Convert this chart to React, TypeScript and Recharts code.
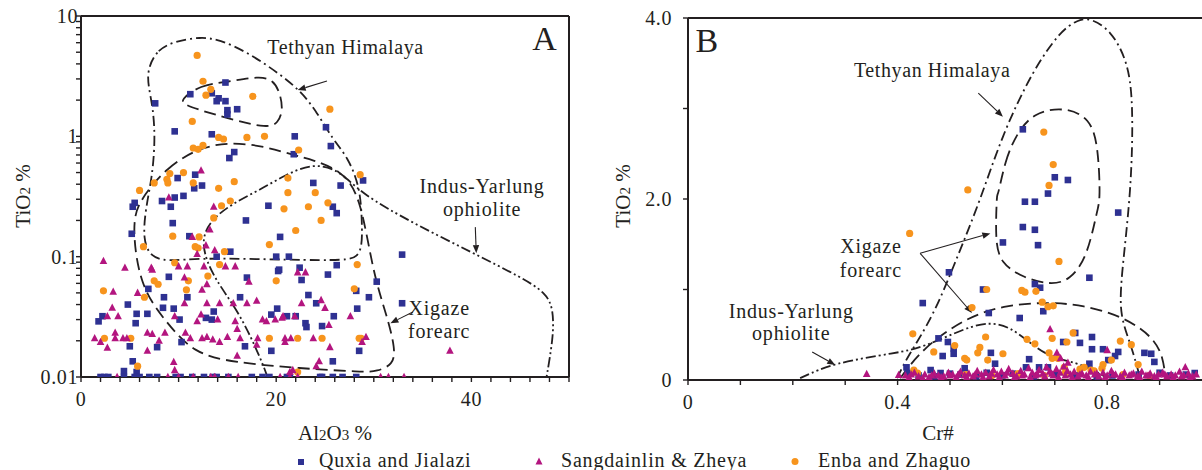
import React from 'react';
import { ScatterChart, Scatter, XAxis, YAxis, ReferenceLine, ReferenceDot } from 'recharts';

const FONT = '"Liberation Serif", "Times New Roman", serif';
const INK = '#231f20';
const BLUE = '#2e3192';
const MAGENTA = '#b3157f';
const ORANGE = '#f7941d';

type Pt = [number, number];

// ---------- Panel A : Al2O3 % vs TiO2 % (log) ----------
const aQuxia: Pt[] = [
  [14.8, 2.8], [11.2, 2.24], [13.4, 2.28], [14.1, 2.07], [14.8, 1.96], [13.9, 1.96], [15.0, 1.65], [16.0, 1.68],
  [15.0, 1.52], [7.6, 1.88], [9.6, 1.1], [13.4, 1.04], [21.9, 1.0], [21.8, 0.71], [15.7, 0.74], [15.2, 0.66],
  [11.7, 0.48], [12.4, 0.39], [11.6, 0.37], [9.9, 0.45], [25.1, 1.19], [25.6, 0.83], [28.9, 0.43], [23.8, 0.41],
  [26.6, 0.39], [8.3, 0.29], [9.6, 0.31], [10.5, 0.32], [9.2, 0.26], [5.3, 0.26], [5.5, 0.28], [19.2, 0.265],
  [25.8, 0.26], [26.2, 0.23], [9.4, 0.19], [16.9, 0.2], [5.2, 0.155], [20.4, 0.146], [11.1, 0.148], [15.3, 0.11],
  [13.9, 0.1], [20.0, 0.1], [21.3, 0.1], [26.2, 0.085], [22.4, 0.081], [20.3, 0.078], [20.2, 0.076], [9.0, 0.068],
  [6.9, 0.054], [4.8, 0.04], [8.5, 0.046], [10.9, 0.046], [16.3, 0.046], [17.0, 0.067], [5.7, 0.0335], [6.8, 0.0335],
  [8.4, 0.0376], [9.5, 0.037], [13.6, 0.035], [12.8, 0.031], [13.4, 0.03], [10.1, 0.03], [20.1, 0.037], [19.5, 0.033],
  [21.1, 0.032], [22.0, 0.032], [1.8, 0.029], [2.2, 0.032], [5.6, 0.028], [10.3, 0.0195], [16.8, 0.018], [5.0, 0.018],
  [7.8, 0.0177], [19.5, 0.0165], [5.3, 0.0135], [4.4, 0.0112], [5.7, 0.011], [32.9, 0.104], [22.6, 0.064], [25.3, 0.071],
  [30.3, 0.062], [28.2, 0.052], [29.5, 0.046], [23.3, 0.048], [24.1, 0.041], [32.9, 0.041], [28.3, 0.037], [25.9, 0.032],
  [23.0, 0.028], [23.1, 0.026], [24.7, 0.0265], [28.5, 0.0165], [25.8, 0.0135],
];
// samples sitting on the 0.01 detection limit
const aQuxiaFloor = [2.0, 2.4, 2.8, 4.4, 5.5, 6.0, 7.0, 7.8, 9.7, 10.2, 11.4, 12.6, 13.5, 13.9, 15.1, 17.5, 18.6, 19.3, 21.1, 21.4, 24.5, 24.7, 25.8, 26.8, 28.2];

const aSang: Pt[] = [
  [12.3, 0.52], [9.0, 0.31], [13.6, 0.26], [13.2, 0.168], [11.4, 0.146], [12.8, 0.124], [13.7, 0.113], [11.9, 0.105],
  [10.9, 0.083], [12.6, 0.083], [14.8, 0.083], [15.8, 0.083], [7.2, 0.081], [2.3, 0.092], [4.5, 0.081], [7.3, 0.078],
  [10.0, 0.083], [17.2, 0.062], [3.3, 0.051], [5.8, 0.05], [10.6, 0.067], [12.4, 0.053], [12.9, 0.059], [3.2, 0.0376],
  [2.7, 0.032], [3.8, 0.032], [10.6, 0.041], [12.9, 0.041], [14.2, 0.041], [15.6, 0.041], [17.0, 0.041], [18.0, 0.043],
  [9.6, 0.032], [11.9, 0.029], [12.3, 0.033], [14.0, 0.03], [15.8, 0.029], [18.6, 0.03], [19.0, 0.029], [19.9, 0.03],
  [20.6, 0.031], [3.5, 0.0233], [1.4, 0.021], [2.0, 0.0195], [3.5, 0.021], [4.3, 0.021], [4.7, 0.021], [6.8, 0.0233],
  [7.3, 0.0228], [8.0, 0.02], [8.6, 0.0233], [10.7, 0.0233], [11.2, 0.021], [12.4, 0.021], [12.9, 0.0215], [13.5, 0.0205],
  [14.2, 0.0195], [15.0, 0.0215], [16.0, 0.025], [16.3, 0.021], [18.1, 0.021], [18.0, 0.0185], [16.0, 0.015], [6.8, 0.0165],
  [2.7, 0.0175], [9.5, 0.0133], [9.6, 0.0114], [20.9, 0.0195], [21.4, 0.011], [22.2, 0.074], [23.0, 0.074], [22.6, 0.041],
  [24.6, 0.0435], [25.0, 0.0375], [20.7, 0.032], [21.9, 0.032], [27.6, 0.032], [25.4, 0.027], [20.9, 0.021], [21.5, 0.021],
  [23.8, 0.021], [29.2, 0.0215], [28.8, 0.0195], [25.5, 0.0177], [24.4, 0.0135], [24.1, 0.0123], [21.7, 0.0114], [37.8, 0.0165],
];
const aSangFloor = [3.7, 8.9, 10.0, 11.5, 13.3, 13.7, 15.1, 16.1, 20.4, 21.4, 22.2, 30.7, 31.5, 33.1];

const aEnba: Pt[] = [
  [11.9, 4.7], [12.5, 2.87], [13.3, 2.46], [12.8, 2.2], [17.6, 2.15], [11.4, 1.33], [14.1, 0.98], [14.6, 0.95],
  [17.0, 0.98], [18.8, 1.0], [11.5, 0.8], [12.0, 0.78], [12.5, 0.84], [22.3, 0.77], [9.1, 0.49], [10.5, 0.5],
  [8.8, 0.44], [8.9, 0.41], [7.5, 0.41], [11.5, 0.41], [15.7, 0.42], [14.1, 0.37], [6.0, 0.355], [21.2, 0.45],
  [21.2, 0.34], [25.5, 1.68], [28.6, 0.48], [24.0, 0.34], [15.3, 0.29], [14.4, 0.265], [20.8, 0.25], [23.3, 0.26],
  [25.3, 0.28], [13.6, 0.21], [24.6, 0.2], [22.0, 0.165], [9.4, 0.148], [12.1, 0.146], [19.3, 0.126], [6.4, 0.121],
  [11.7, 0.121], [12.0, 0.118], [14.7, 0.11], [9.6, 0.089], [14.2, 0.086], [28.3, 0.086], [2.3, 0.052], [7.5, 0.063],
  [7.9, 0.059], [6.5, 0.046], [11.0, 0.063], [10.8, 0.053], [13.0, 0.069], [20.0, 0.063], [2.4, 0.021], [5.1, 0.021],
  [19.3, 0.021], [22.2, 0.021], [5.8, 0.0123], [22.2, 0.011], [28.0, 0.054], [24.7, 0.021], [28.5, 0.021], [28.7, 0.021],
];

// field outlines, panel A
const aTethyan: Pt[] = [
  [6.8, 3.6], [7.8, 5.3], [9.8, 6.2], [12.2, 6.7], [14.2, 6.4], [17.0, 5.0], [19.7, 3.6], [22.4, 2.45], [24.2, 1.58],
  [25.8, 0.94], [27.3, 0.68], [28.6, 0.38], [28.8, 0.19], [28.8, 0.121], [28.3, 0.1], [27.3, 0.093], [21.7, 0.094],
  [12.2, 0.098], [8.8, 0.091], [7.1, 0.1], [6.35, 0.139], [6.6, 0.247], [7.3, 0.46], [7.6, 0.94], [7.4, 1.68], [6.9, 2.6],
];
const aXigaze: Pt[] = [
  [6.0, 0.295], [8.8, 0.556], [12.2, 0.815], [15.6, 0.897], [19.1, 0.815], [21.7, 0.7], [23.8, 0.636], [26.5, 0.525],
  [28.6, 0.338], [29.9, 0.073], [31.4, 0.0313], [32.2, 0.017], [32.0, 0.0127], [30.3, 0.0111], [28.9, 0.011],
  [22.4, 0.0118], [15.6, 0.0132], [11.5, 0.0158], [8.8, 0.0282], [6.0, 0.056], [5.2, 0.19],
];
const aXigazeSmall: Pt[] = [
  [10.1, 2.0], [12.2, 2.67], [15.0, 2.83], [18.3, 3.17], [19.7, 2.94], [20.4, 2.29], [20.7, 1.65], [20.2, 1.29],
  [19.1, 1.17], [15.6, 1.37], [12.2, 1.65], [10.7, 1.82],
];
const aIndus: Pt[] = [
  [19.1, 0.01], [18.6, 0.0131], [16.3, 0.034], [13.5, 0.0676], [12.2, 0.13], [13.2, 0.2], [15.6, 0.279], [18.3, 0.358],
  [20.9, 0.477], [23.8, 0.6], [26.5, 0.525], [28.6, 0.338], [34.0, 0.19], [40.2, 0.107], [45.0, 0.068], [47.7, 0.05],
  [48.4, 0.036], [48.4, 0.0215], [47.7, 0.01],
];

// ---------- Panel B : Cr# vs TiO2 % ----------
const bQuxia: Pt[] = [
  [0.639, 2.77], [0.7, 2.24], [0.725, 2.21], [0.687, 2.06], [0.643, 1.97], [0.662, 1.97], [0.821, 1.85], [0.639, 1.69],
  [0.662, 1.66], [0.601, 1.52], [0.668, 1.49], [0.498, 1.19], [0.766, 1.13], [0.563, 1.0], [0.662, 1.06], [0.672, 1.02],
  [0.448, 0.85], [0.678, 0.76], [0.574, 0.74], [0.633, 0.685], [0.478, 0.46], [0.496, 0.42], [0.771, 0.475], [0.716, 0.42],
  [0.748, 0.41], [0.739, 0.52], [0.507, 0.35], [0.486, 0.265], [0.507, 0.29], [0.578, 0.3], [0.771, 0.34], [0.792, 0.34],
  [0.821, 0.31], [0.815, 0.265], [0.802, 0.22], [0.871, 0.3], [0.884, 0.29], [0.89, 0.2], [0.651, 0.23], [0.586, 0.18],
  [0.528, 0.13], [0.463, 0.11], [0.482, 0.077], [0.645, 0.14], [0.766, 0.18], [0.417, 0.14], [0.419, 0.077], [0.967, 0.077],
  [0.67, 0.14], [0.687, 0.14], [0.44, 0.05], [0.47, 0.04], [0.52, 0.06], [0.55, 0.04], [0.6, 0.05], [0.62, 0.07],
  [0.7, 0.06], [0.74, 0.05], [0.78, 0.04], [0.86, 0.06], [0.92, 0.05], [0.95, 0.06], [0.5, 0.07], [0.57, 0.08],
  [0.66, 0.04], [0.81, 0.05], [0.9, 0.08],
];
const bEnba: Pt[] = [
  [0.679, 2.74], [0.697, 2.38], [0.689, 2.15], [0.534, 2.1], [0.423, 1.62], [0.708, 1.31], [0.57, 1.0], [0.637, 0.99],
  [0.643, 0.97], [0.664, 0.98], [0.676, 0.86], [0.687, 0.81], [0.697, 0.82], [0.542, 0.8], [0.429, 0.51], [0.568, 0.475],
  [0.647, 0.45], [0.662, 0.4], [0.735, 0.52], [0.723, 0.42], [0.695, 0.46], [0.825, 0.43], [0.846, 0.39], [0.509, 0.38],
  [0.528, 0.24], [0.532, 0.22], [0.557, 0.36], [0.553, 0.3], [0.601, 0.29], [0.469, 0.31], [0.689, 0.3], [0.695, 0.24],
  [0.706, 0.24], [0.572, 0.22], [0.792, 0.17], [0.808, 0.22], [0.859, 0.17], [0.431, 0.11], [0.438, 0.077], [0.756, 0.14],
  [0.769, 0.11], [0.718, 0.14], [0.748, 0.12], [0.775, 0.1], [0.79, 0.13], [0.53, 0.06], [0.58, 0.05], [0.63, 0.07],
  [0.68, 0.05], [0.72, 0.08], [0.83, 0.06], [0.88, 0.05],
];
const bSang: Pt[] = [
  [0.691, 0.56], [0.8, 0.33], [0.704, 0.3], [0.725, 0.19], [0.711, 0.24], [0.949, 0.14], [0.341, 0.066], [0.402, 0.055],
  [0.415, 0.05], [0.422, 0.03], [0.432, 0.08], [0.44, 0.04], [0.452, 0.06], [0.46, 0.03], [0.47, 0.07], [0.478, 0.05],
  [0.488, 0.04], [0.497, 0.08], [0.505, 0.06], [0.512, 0.03], [0.52, 0.09], [0.528, 0.05], [0.536, 0.07], [0.544, 0.04],
  [0.552, 0.1], [0.56, 0.06], [0.568, 0.08], [0.575, 0.04], [0.583, 0.11], [0.59, 0.06], [0.598, 0.09], [0.605, 0.05],
  [0.612, 0.12], [0.62, 0.07], [0.627, 0.04], [0.635, 0.1], [0.642, 0.06], [0.65, 0.13], [0.657, 0.08], [0.663, 0.05],
  [0.67, 0.11], [0.677, 0.07], [0.684, 0.14], [0.69, 0.09], [0.697, 0.05], [0.703, 0.12], [0.71, 0.08], [0.717, 0.15],
  [0.724, 0.1], [0.73, 0.06], [0.737, 0.09], [0.744, 0.04], [0.752, 0.07], [0.76, 0.05], [0.768, 0.09], [0.776, 0.06],
  [0.784, 0.04], [0.792, 0.08], [0.8, 0.05], [0.808, 0.1], [0.816, 0.06], [0.825, 0.04], [0.833, 0.08], [0.842, 0.05],
  [0.85, 0.07], [0.858, 0.04], [0.866, 0.09], [0.874, 0.05], [0.882, 0.07], [0.89, 0.04], [0.898, 0.06], [0.906, 0.08],
  [0.914, 0.04], [0.922, 0.06], [0.93, 0.05], [0.938, 0.09], [0.946, 0.05], [0.955, 0.07], [0.963, 0.04], [0.97, 0.06],
  [0.426, 0.06], [0.448, 0.02], [0.465, 0.05], [0.483, 0.03], [0.5, 0.05], [0.516, 0.06], [0.532, 0.03], [0.548, 0.06],
  [0.563, 0.03], [0.579, 0.07], [0.594, 0.03], [0.609, 0.08], [0.623, 0.03], [0.638, 0.05], [0.653, 0.03], [0.667, 0.06],
  [0.681, 0.04], [0.694, 0.07], [0.707, 0.03], [0.72, 0.05], [0.733, 0.03], [0.748, 0.06], [0.764, 0.03], [0.78, 0.07],
  [0.796, 0.03], [0.812, 0.06], [0.829, 0.03], [0.846, 0.06], [0.862, 0.03], [0.878, 0.05], [0.894, 0.03], [0.91, 0.06],
  [0.926, 0.03], [0.942, 0.04], [0.958, 0.03],
];

const bTethyan: Pt[] = [
  [0.399, 0.02], [0.418, 0.25], [0.468, 0.7], [0.514, 1.36], [0.558, 1.99], [0.601, 2.73], [0.659, 3.43], [0.71, 3.85],
  [0.743, 3.98], [0.768, 4.0], [0.806, 3.87], [0.838, 3.54], [0.85, 3.09], [0.846, 2.07], [0.825, 1.07], [0.825, 0.7],
  [0.844, 0.41], [0.859, 0.11], [0.863, 0.01],
];
const bXigazeUpper: Pt[] = [
  [0.59, 1.99], [0.605, 2.43], [0.628, 2.73], [0.659, 2.95], [0.716, 3.02], [0.768, 2.9], [0.783, 2.57], [0.787, 1.99],
  [0.781, 1.88], [0.762, 1.36], [0.729, 1.1], [0.691, 1.05], [0.64, 1.13], [0.596, 1.29], [0.586, 1.55], [0.59, 2.1],
];
const bXigazeLower: Pt[] = [
  [0.405, 0.02], [0.449, 0.36], [0.533, 0.7], [0.609, 0.83], [0.685, 0.86], [0.754, 0.83], [0.831, 0.7], [0.888, 0.475],
  [0.907, 0.25], [0.911, 0.02],
];
const bIndus: Pt[] = [
  [0.214, 0.02], [0.277, 0.19], [0.399, 0.3], [0.449, 0.36], [0.533, 0.585], [0.577, 0.64], [0.615, 0.585], [0.653, 0.41],
  [0.691, 0.25], [0.743, 0.19], [0.781, 0.09], [0.8, 0.02],
];

// axis ticks
const aXTicks = [0, 2, 4, 6, 8, 10, 12, 14, 16, 18, 20, 22, 24, 26, 28, 30, 32, 34, 36, 38, 40, 42, 44, 46, 48, 50];
const aXLabels = [0, 20, 40];
const aYTicks = [0.01, 0.02, 0.03, 0.04, 0.05, 0.06, 0.07, 0.08, 0.09, 0.1, 0.2, 0.3, 0.4, 0.5, 0.6, 0.7, 0.8, 0.9, 1, 2, 3, 4, 5, 6, 7, 8, 9, 10];
const aYLabels = [0.01, 0.1, 1, 10];
const bXTicks = [0, 0.1, 0.2, 0.3, 0.4, 0.5, 0.6, 0.7, 0.8, 0.9, 1];
const bXLabels = [0, 0.4, 0.8];
const bYTicks = [0, 1, 2, 3, 4];
const bYLabels = [0, 2, 4];

const toObj = (pts: Pt[]) => pts.map(([x, y]) => ({ x, y }));
const floorObj = (xs: number[]) => xs.map((x) => ({ x, y: 0.01 }));

const Square = (p: any) => <rect x={p.cx - 3.3} y={p.cy - 3.3} width={6.6} height={6.6} fill={BLUE} />;
const Tri = (p: any) => (
  <polygon points={`${p.cx},${p.cy - 4.3} ${p.cx + 3.8},${p.cy + 3} ${p.cx - 3.8},${p.cy + 3}`} fill={MAGENTA} />
);
const Dot = (p: any) => <circle cx={p.cx} cy={p.cy} r={3.6} fill={ORANGE} />;
const Empty = () => <g />;

const DASH = '12 6';
const DASHDOT = '10 4 2 4';
const DASHDOTDOT = '10 3 2 3 2 3';

const outline = (key: string, pts: Pt[], dash: string, closed: boolean) => (
  <Scatter
    key={key}
    data={toObj(pts)}
    shape={Empty}
    line={{ stroke: INK, strokeWidth: 1.8, strokeDasharray: dash, fill: 'none' }}
    lineType="joint"
    lineJointType={closed ? 'basisClosed' : 'basis'}
    isAnimationActive={false}
  />
);

const Arrow = (p: any) => {
  const { x1, y1, x2, y2 } = p;
  const a = Math.atan2(y2 - y1, x2 - x1);
  const L = 8;
  const W = 3.2;
  const bx = x2 - L * Math.cos(a);
  const by = y2 - L * Math.sin(a);
  const nx = -Math.sin(a) * W;
  const ny = Math.cos(a) * W;
  return (
    <g>
      <line x1={x1} y1={y1} x2={bx} y2={by} stroke={INK} strokeWidth={1.1} />
      <polygon points={`${x2},${y2} ${bx + nx},${by + ny} ${bx - nx},${by - ny}`} fill={INK} />
    </g>
  );
};

const label = (lines: string[], size: number, spacing: number, lineH: number) => (p: any) => (
  <text x={p.cx} y={p.cy} textAnchor="middle" fontFamily={FONT} fontSize={size} letterSpacing={spacing} fill={INK}>
    {lines.map((l, i) => (
      <tspan key={i} x={p.cx} dy={i === 0 ? 0 : lineH}>
        {l}
      </tspan>
    ))}
  </text>
);

// tick labels drawn by hand so the serif face is certain
const xTick = (fmt: (v: number) => string) => (p: any) => {
  const s = fmt(p.payload.value);
  if (!s) return <g />;
  return (
    <text x={p.x} y={p.y} dy={14} textAnchor="middle" fontFamily={FONT} fontSize={20} letterSpacing={0.6} fill={INK}>
      {s}
    </text>
  );
};
const yTick = (fmt: (v: number) => string) => (p: any) => {
  const s = fmt(p.payload.value);
  if (!s) return <g />;
  return (
    <text x={p.x} y={p.y} dy={7} textAnchor="end" fontFamily={FONT} fontSize={20} letterSpacing={0.6} fill={INK}>
      {s}
    </text>
  );
};

const axisLine = { stroke: INK, strokeWidth: 2 };
const tickLine = { stroke: INK, strokeWidth: 1.4 };

const fmtAX = (v: number) => (aXLabels.includes(v) ? String(v) : '');
const fmtAY = (v: number) => (aYLabels.includes(v) ? String(v) : '');
const fmtBX = (v: number) => (bXLabels.includes(v) ? String(v) : '');
const fmtBY = (v: number) => (bYLabels.includes(v) ? (v === 0 ? '0' : v.toFixed(1)) : '');

function PanelA() {
  return (
    <ScatterChart width={610} height={430} margin={{ top: 16, right: 41, bottom: 23, left: 0 }}>
      <XAxis
        type="number"
        dataKey="x"
        domain={[0, 50]}
        ticks={aXTicks}
        interval={0}
        tick={xTick(fmtAX)}
        tickSize={5}
        tickMargin={10}
        height={30}
        axisLine={axisLine}
        tickLine={tickLine}
        allowDataOverflow
      />
      <YAxis
        type="number"
        dataKey="y"
        scale="log"
        domain={[0.01, 10]}
        ticks={aYTicks}
        interval={0}
        tick={yTick(fmtAY)}
        tickSize={5}
        tickMargin={-2}
        width={81}
        axisLine={axisLine}
        tickLine={tickLine}
        allowDataOverflow
      />
      <ReferenceLine y={10} stroke={INK} strokeWidth={2} />
      <ReferenceLine x={50} stroke={INK} strokeWidth={2} />
      {outline('aT', aTethyan, DASHDOT, true)}
      {outline('aX', aXigaze, DASH, true)}
      {outline('aXs', aXigazeSmall, DASH, true)}
      {outline('aI', aIndus, DASHDOTDOT, false)}
      <Scatter data={[...toObj(aQuxia), ...floorObj(aQuxiaFloor)]} shape={Square} isAnimationActive={false} />
      <Scatter data={toObj(aEnba)} shape={Dot} isAnimationActive={false} />
      <Scatter data={[...toObj(aSang), ...floorObj(aSangFloor)]} shape={Tri} isAnimationActive={false} />
      <ReferenceLine segment={[{ x: 25.2, y: 2.88 }, { x: 22.2, y: 2.43 }]} shape={Arrow} />
      <ReferenceLine segment={[{ x: 40.4, y: 0.176 }, { x: 40.5, y: 0.107 }]} shape={Arrow} />
      <ReferenceLine segment={[{ x: 34.0, y: 0.0347 }, { x: 31.7, y: 0.028 }]} shape={Arrow} />
      <ReferenceDot x={27.1} y={4.83} r={1} shape={label(['Tethyan Himalaya'], 20, 0.6, 0)} />
      <ReferenceDot x={41.1} y={0.336} r={1} shape={label(['Indus-Yarlung', 'ophiolite'], 20, 0.8, 23)} />
      <ReferenceDot x={36.7} y={0.0326} r={1} shape={label(['Xigaze', 'forearc'], 20, 0.8, 23)} />
      <ReferenceDot x={47.5} y={5.2} r={1} shape={label(['A'], 34, 0, 0)} />
    </ScatterChart>
  );
}

function PanelB() {
  return (
    <ScatterChart width={620} height={430} margin={{ top: 18, right: 8, bottom: 20, left: 0 }}>
      <XAxis
        type="number"
        dataKey="x"
        domain={[0, 1]}
        ticks={bXTicks}
        interval={0}
        tick={xTick(fmtBX)}
        tickSize={5}
        tickMargin={10}
        height={30}
        axisLine={axisLine}
        tickLine={tickLine}
        allowDataOverflow
      />
      <YAxis
        type="number"
        dataKey="y"
        domain={[0, 4]}
        ticks={bYTicks}
        interval={0}
        tick={yTick(fmtBY)}
        tickSize={5}
        tickMargin={11}
        width={88}
        axisLine={axisLine}
        tickLine={tickLine}
        allowDataOverflow
      />
      <ReferenceLine y={4} stroke={INK} strokeWidth={2} />
      {outline('bT', bTethyan, DASHDOT, false)}
      {outline('bXu', bXigazeUpper, DASH, true)}
      {outline('bXl', bXigazeLower, DASH, false)}
      {outline('bI', bIndus, DASHDOTDOT, false)}
      <Scatter data={toObj(bQuxia)} shape={Square} isAnimationActive={false} />
      <Scatter data={toObj(bEnba)} shape={Dot} isAnimationActive={false} />
      <Scatter data={toObj(bSang)} shape={Tri} isAnimationActive={false} />
      <ReferenceLine segment={[{ x: 0.554, y: 3.17 }, { x: 0.601, y: 2.91 }]} shape={Arrow} />
      <ReferenceLine segment={[{ x: 0.443, y: 1.4 }, { x: 0.577, y: 1.62 }]} shape={Arrow} />
      <ReferenceLine segment={[{ x: 0.443, y: 1.4 }, { x: 0.542, y: 0.74 }]} shape={Arrow} />
      <ReferenceLine segment={[{ x: 0.237, y: 0.31 }, { x: 0.281, y: 0.166 }]} shape={Arrow} />
      <ReferenceDot x={0.466} y={3.35} r={1} shape={label(['Tethyan Himalaya'], 20, 0.6, 0)} />
      <ReferenceDot x={0.349} y={1.4} r={1} shape={label(['Xigaze', 'forearc'], 20, 0.8, 24)} />
      <ReferenceDot x={0.197} y={0.685} r={1} shape={label(['Indus-Yarlung', 'ophiolite'], 20, 0.8, 22)} />
      <ReferenceDot x={0.036} y={3.62} r={1} shape={label(['B'], 34, 0, 0)} />
    </ScatterChart>
  );
}

function Overlay() {
  const t = { fontFamily: FONT, fill: INK };
  return (
    <svg width={1202} height={470} style={{ position: 'absolute', left: 0, top: 0, pointerEvents: 'none' }}>
      <text {...t} fontSize={21} textAnchor="middle" transform="translate(30,196) rotate(-90)">
        TiO<tspan fontSize={15}>2</tspan> %
      </text>
      <text {...t} fontSize={21} textAnchor="middle" transform="translate(630,196) rotate(-90)">
        TiO<tspan fontSize={15}>2</tspan> %
      </text>
      <text {...t} fontSize={21} x={335} y={440} textAnchor="middle">
        Al<tspan fontSize={15}>2</tspan>O<tspan fontSize={15}>3</tspan> %
      </text>
      <text {...t} fontSize={21} x={938} y={440} textAnchor="middle">
        Cr#
      </text>
      <rect x={298} y={459} width={6} height={6} fill={BLUE} />
      <text {...t} fontSize={20} letterSpacing={0.8} x={319} y={467}>Quxia and Jialazi</text>
      <polygon points="539,457.5 542.5,464.5 535.5,464.5" fill={MAGENTA} />
      <text {...t} fontSize={20} letterSpacing={0.8} x={561} y={467}>Sangdainlin &amp; Zheya</text>
      <circle cx={795} cy={461.5} r={3.5} fill={ORANGE} />
      <text {...t} fontSize={20} letterSpacing={0.8} x={818} y={467}>Enba and Zhaguo</text>
    </svg>
  );
}

export default function App() {
  return (
    <div style={{ position: 'fixed', left: 0, top: 0, width: 1202, height: 470, overflow: 'hidden', background: '#fff' }}>
      <div style={{ position: 'absolute', left: 0, top: 0 }}>
        <PanelA />
      </div>
      <div style={{ position: 'absolute', left: 600, top: 0 }}>
        <PanelB />
      </div>
      <Overlay />
    </div>
  );
}
